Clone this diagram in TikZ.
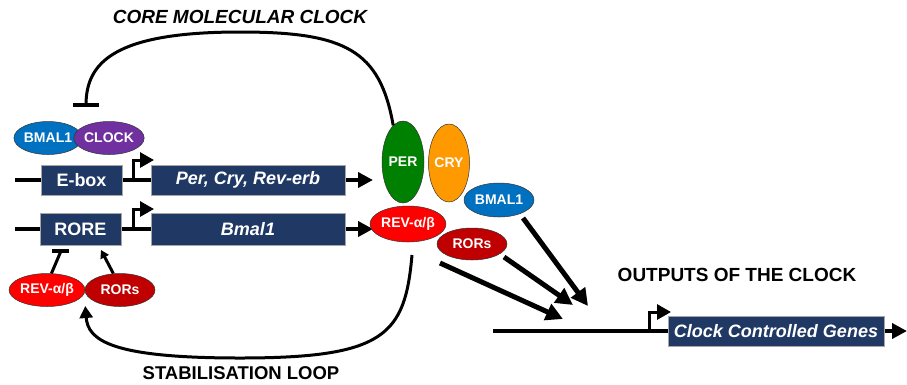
\documentclass[tikz,border=0pt]{standalone}
\usepackage{fontspec}
\setmainfont{Liberation Sans}
\usetikzlibrary{shapes.geometric,arrows.meta,calc}
\definecolor{navy}{RGB}{31,56,100}
\definecolor{bmalblue}{RGB}{0,112,192}
\definecolor{clockpurple}{RGB}{112,48,160}
\definecolor{pergreen}{RGB}{0,128,0}
\definecolor{cryorange}{RGB}{255,153,0}
\definecolor{revred}{RGB}{255,0,0}
\definecolor{rorred}{RGB}{192,0,0}
\begin{document}
\begin{tikzpicture}[x=1pt,y=-1pt,
  genebox/.style={rectangle,fill=navy,draw=gray!70,line width=0.6pt,inner sep=0pt,
    text=white,font=\fontsize{18}{20}\selectfont\bfseries},
  prot/.style={ellipse,draw=gray!40!black,line width=0.5pt,inner sep=0pt,
    text=white,font=\fontsize{14}{16}\selectfont\bfseries},
  dna/.style={line width=4.5pt,-{Triangle[length=15pt,width=15pt]}},
  prom/.style={line width=3pt,-{Triangle[length=14pt,width=15pt]}},
  loop/.style={line width=3pt},
  bigarrow/.style={line width=5pt,-{Triangle[length=17pt,width=17pt]}},
  smallarrow/.style={line width=3pt,-{Triangle[length=8pt,width=9pt]}},
  heading/.style={font=\fontsize{19}{21}\selectfont\bfseries}]
\useasboundingbox (0,0) rectangle (907,384);

% headings
\node[heading,font=\fontsize{19}{21}\selectfont\bfseries\itshape] (tcore) at (240,17) {CORE MOLECULAR CLOCK};
\node[heading,font=\fontsize{18.5}{21}\selectfont\bfseries] (tstab) at (241,373) {STABILISATION LOOP};
\node[heading] (tout) at (737,275) {OUTPUTS OF THE CLOCK};

% DNA strands
\coordinate (d1s) at (15,180);  \coordinate (d1e) at (373,180);
\coordinate (d2s) at (15,229);  \coordinate (d2e) at (373,229);
\coordinate (d3s) at (493,331); \coordinate (d3e) at (907,331);
\draw[dna] (d1s) -- (d1e);
\draw[dna] (d2s) -- (d2e);
\draw[dna] (d3s) -- (d3e);

% transcription start sites
\coordinate (p1) at (133,180); \coordinate (p1t) at (154,160);
\coordinate (p2) at (133,229); \coordinate (p2t) at (154,209);
\coordinate (p3) at (649,331); \coordinate (p3t) at (671,312);
\draw[prom] (p1) |- (p1t);
\draw[prom] (p2) |- (p2t);
\draw[prom] (p3) |- (p3t);

% gene boxes
\node[genebox,minimum width=81pt,minimum height=30pt] (ebox) at (81.5,180) {E-box};
\node[genebox,minimum width=194pt,minimum height=30pt] (pcr) at (248,180) {\itshape Per, Cry, Rev-erb};
\node[genebox,minimum width=81pt,minimum height=32pt] (rore) at (80.5,229) {RORE};
\node[genebox,minimum width=194pt,minimum height=32pt] (bmalg) at (248,229) {\itshape Bmal1};
\node[genebox,minimum width=216pt,minimum height=30pt] (ccg) at (776,331) {\itshape Clock Controlled Genes};

% E-box bound proteins
\node[prot,fill=bmalblue,minimum width=66pt,minimum height=33pt] (bmalA) at (48,138) {BMAL1};
\node[prot,fill=clockpurple,minimum width=68pt,minimum height=33pt] (clockA) at (109,138) {CLOCK};

% RORE regulators
\node[prot,fill=revred,minimum width=70pt,minimum height=33pt] (revA) at (47,290) {REV-α/β};
\node[prot,fill=rorred,minimum width=70pt,minimum height=33pt] (rorA) at (120,290) {RORs};

% clock proteins
\node[prot,fill=pergreen,minimum width=42pt,minimum height=82pt] (per) at (403,162) {PER};
\node[prot,fill=cryorange,minimum width=40pt,minimum height=78pt] (cry) at (449,163) {CRY};
\node[prot,fill=bmalblue,minimum width=70pt,minimum height=34pt] (bmalB) at (499,200) {BMAL1};
\node[prot,fill=revred,minimum width=70pt,minimum height=36pt] (revB) at (408,224) {REV-α/β};
\node[prot,fill=rorred,minimum width=70pt,minimum height=32pt] (rorB) at (472,244) {RORs};

% core feedback loop: PER/CRY repress BMAL1/CLOCK
\coordinate (inh) at (86,105);
\draw[loop] (per.105) .. controls (380,50) and (345,32) .. (240,32)
  .. controls (115,32) and (86,62) .. (inh);
\draw[line width=4pt] ($(inh)+(-13,0)$) -- ($(inh)+(13,0)$);

% stabilisation loop
\coordinate (stabs) at (412,255);
\draw[loop,-{Triangle[length=12pt,width=13pt]}] (stabs)
  .. controls (405,335) and (385,358) .. (240,358)
  .. controls (110,358) and (88,340) .. (revA.east |- 0,306);

% regulation of RORE
\coordinate (ib) at (61,251);
\draw[loop] (revA.75) -- (ib);
\draw[line width=3.5pt] ($(ib)+(-9,0)$) -- ($(ib)+(8,0)$);
\coordinate (rt) at (101,250);
\draw[smallarrow] (rorA.112) -- (rt);

% outputs
\coordinate (o1s) at (440,263); \coordinate (o1e) at (563,319);
\coordinate (o2s) at (504,257); \coordinate (o2e) at (573,305);
\coordinate (o3s) at (523,218); \coordinate (o3e) at (588,306);
\draw[bigarrow] (o1s) -- (o1e);
\draw[bigarrow] (o2s) -- (o2e);
\draw[bigarrow] (o3s) -- (o3e);
\end{tikzpicture}
\end{document}
